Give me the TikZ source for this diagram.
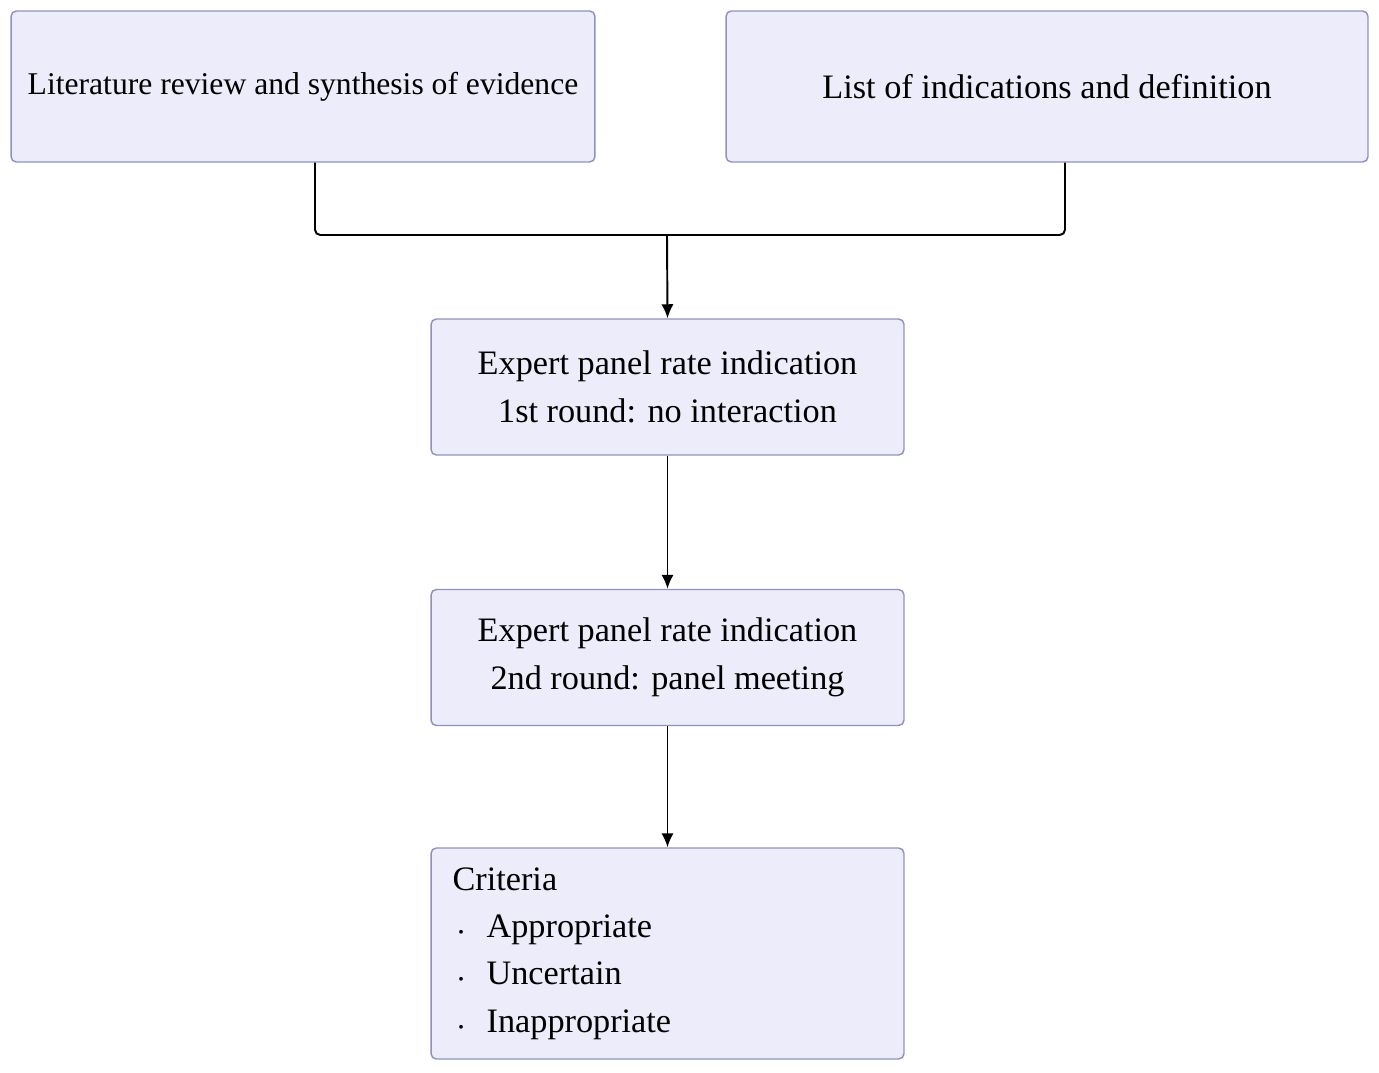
\documentclass[tikz,border=0pt]{standalone}
\usepackage{fontspec}
\setmainfont{Liberation Serif}
\usetikzlibrary{arrows.meta}
\definecolor{boxfill}{HTML}{ECECFA}
\definecolor{boxline}{HTML}{9090C0}
\tikzset{
  flowbox/.style={draw=boxline,fill=boxfill,rounded corners=3pt,line width=0.8pt,
    minimum height=2.72cm,minimum width=9.46cm,align=center,font=\fontsize{19.5}{27}\selectfont},
  flowline/.style={line width=1.1pt,rounded corners=3pt},
  flowarrow/.style={flowline,-{Latex[length=8pt,width=7pt]}}
}
\newcommand{\critdot}{\,{\fontsize{9}{9}\selectfont\textbullet}\ \ }
\begin{document}
\begin{tikzpicture}[x=0.02cm,y=-0.02cm]
	\useasboundingbox (0,0) rectangle (1379,1072);
	
	\node[flowbox,minimum width=11.68cm,minimum height=3.02cm,font=\fontsize{18}{20}\selectfont] (lit) at (303,86.5) {Literature review and synthesis of evidence};
	\node[flowbox,minimum width=12.84cm,minimum height=3.02cm] (list) at (1047,86.5) {List of indications and definition};
	\node[flowbox] (first) at (667.5,387) {Expert panel rate indication\\1st round: no interaction};
	\node[flowbox] (second) at (667.5,657.5) {Expert panel rate indication\\2nd round: panel meeting};
	\node[flowbox,minimum height=4.22cm,text width=8.6cm,align=left,font=\fontsize{19.5}{27}\selectfont] (crit) at (667.5,953.5)
		{Criteria\\ \critdot Appropriate\\ \critdot Uncertain\\ \critdot Inappropriate};
	
	\coordinate (join) at (667,235);
	\draw[flowline] (lit.south -| 315,0) |- (join);
	\draw[flowline] (list.south -| 1065,0) |- (join);
	\draw[flowarrow] (join) -- (first.north);
	\draw[flowarrow] (first) -- (second);
	\draw[flowarrow] (second) -- (crit);
\end{tikzpicture}
\end{document}
